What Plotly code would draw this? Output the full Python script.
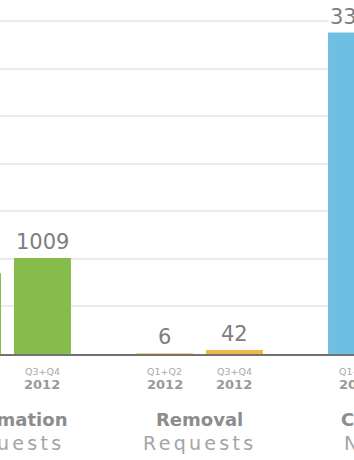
import plotly.graph_objects as go

groups = ["Information Requests", "Removal Requests", "Copyright Notices"]
group_bold = ["Information", "Removal", "Copyright"]
group_light = ["Requests", "Requests", "Notices"]
periods = ["Q1+Q2", "Q3+Q4"]
period_year = ["2012", "2012"]
h1_values = [849, 6, 3378]
h2_values = [1009, 42, 3268]
h1_colors = ["#86bc4c", "#f3d49c", "#6fbfe2"]
h2_colors = ["#86bc4c", "#f0b54c", "#6fbfe2"]

BARGAP = 0.271
GROUPGAP = 0.186
XR = [-0.039, 1.8047]


def to_paper(pos):
    return (pos - XR[0]) / (XR[1] - XR[0])


fig = go.Figure()
for name, vals, cols in [(periods[0], h1_values, h1_colors), (periods[1], h2_values, h2_colors)]:
    fig.add_trace(go.Bar(x=groups, y=vals, name=name, marker=dict(color=cols, line=dict(width=0)),
                         hoverinfo="skip"))

half = (1 - BARGAP) / 4
annotations = []
for gi, g in enumerate(groups):
    for si, vals in enumerate([h1_values, h2_values]):
        xp = to_paper(gi + (-half if si == 0 else half))
        annotations.append(dict(x=xp, y=vals[gi], xref="paper", yref="y", xanchor="center", yanchor="bottom",
                                text=str(vals[gi]), showarrow=False, bgcolor="white",
                                yshift=2, font=dict(family="DejaVu Sans", size=21, color="#7e7e7e")))
        annotations.append(dict(x=xp, y=-0.049, xref="paper", yref="paper", xanchor="center", yanchor="middle",
                                text=periods[si], showarrow=False,
                                font=dict(family="DejaVu Sans", size=9.5, color="#a8a8a8")))
        annotations.append(dict(x=xp, y=-0.085, xref="paper", yref="paper", xanchor="center", yanchor="middle",
                                text="<b>" + period_year[si] + "</b>", showarrow=False,
                                font=dict(family="DejaVu Sans", size=13, color="#9a9a9a")))
    annotations.append(dict(x=to_paper(gi), y=-0.186, xref="paper", yref="paper", xanchor="center", yanchor="middle",
                            text="<b>" + group_bold[gi] + "</b>", showarrow=False,
                            font=dict(family="DejaVu Sans", size=18, color="#8c8c8c")))
    annotations.append(dict(x=to_paper(gi), y=-0.25, xref="paper", yref="paper", xanchor="center", yanchor="middle",
                            text='<span style="letter-spacing:3.3px">' + group_light[gi] + "</span>",
                            showarrow=False,
                            font=dict(family="DejaVu Sans", size=19, color="#a4a4a4")))

fig.update_layout(
    width=354, height=460,
    margin=dict(l=0, r=0, t=0, b=106),
    paper_bgcolor="white", plot_bgcolor="white",
    barmode="group", bargap=BARGAP, bargroupgap=GROUPGAP,
    showlegend=False,
    annotations=annotations,
    xaxis=dict(range=XR, showticklabels=False, ticks="", showgrid=False,
               showline=True, linecolor="#727272", linewidth=2, zeroline=False, fixedrange=True),
    yaxis=dict(range=[0, 3720], dtick=500, showticklabels=False, ticks="", showgrid=True,
               gridcolor="#ebebeb", gridwidth=1.5, zeroline=False, showline=False, fixedrange=True),
)

fig.write_html("out.html")
